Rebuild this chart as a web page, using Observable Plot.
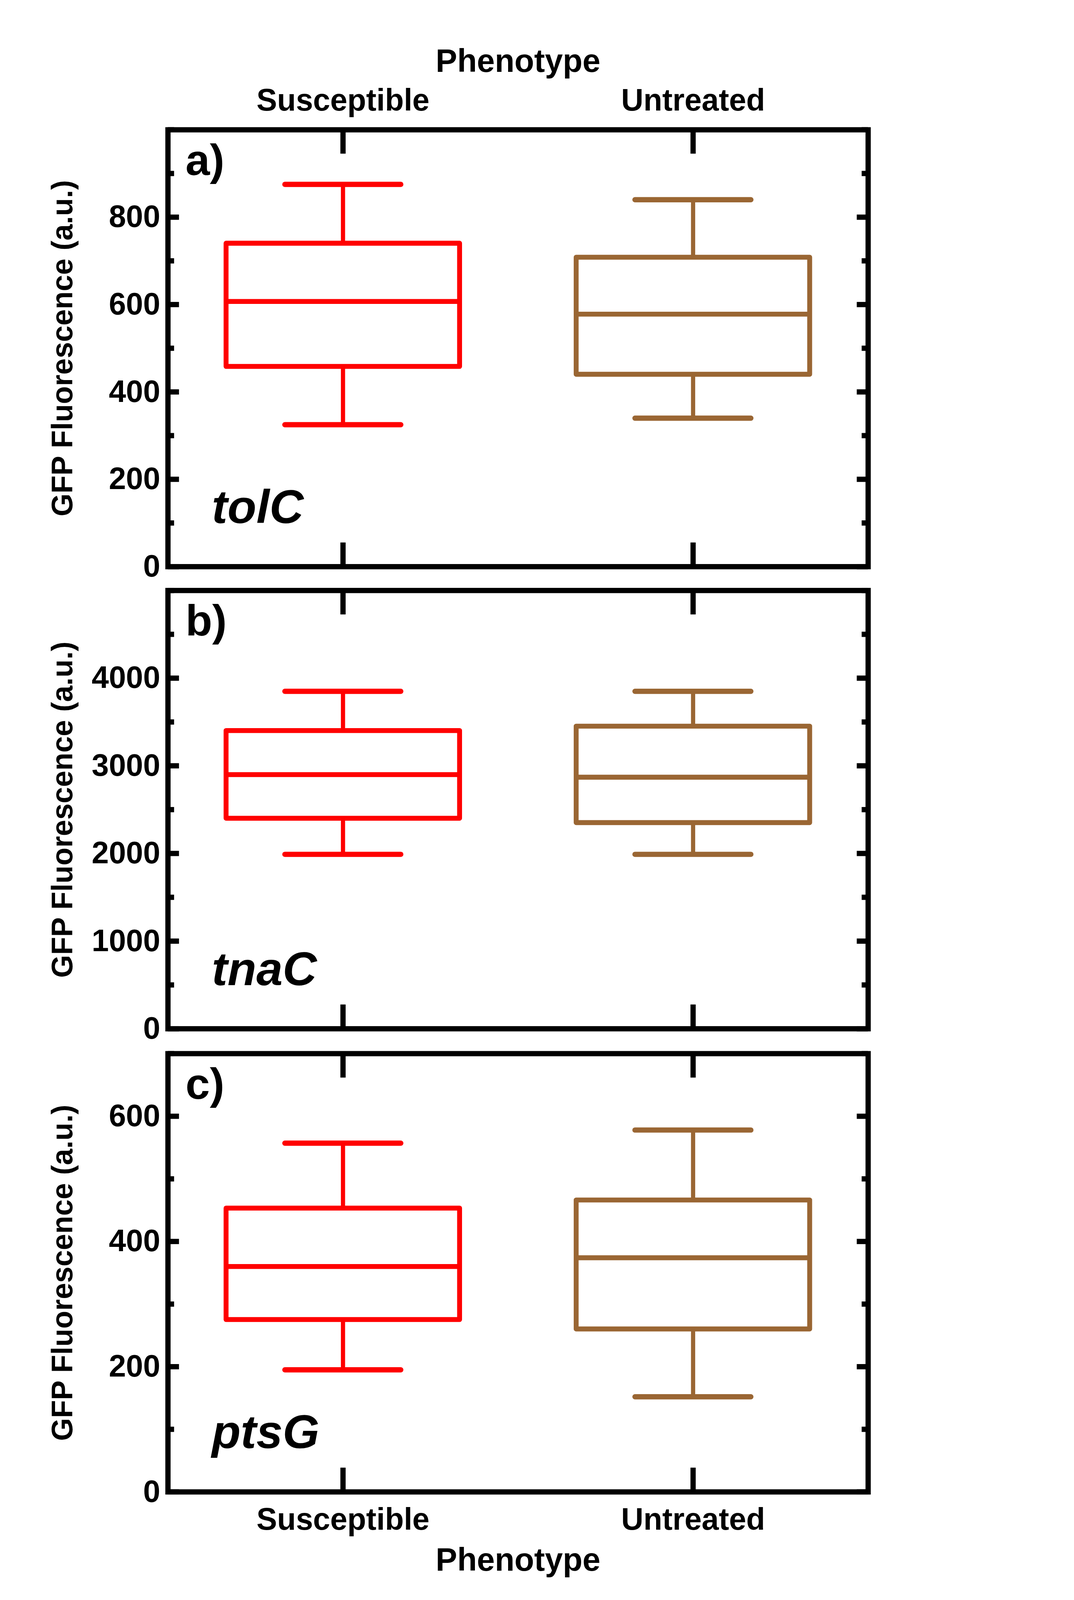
<!DOCTYPE html>
<html><head><meta charset="utf-8">
<script src="https://cdn.jsdelivr.net/npm/d3@7"></script>
<script src="https://cdn.jsdelivr.net/npm/@observablehq/plot@0.6"></script>
<style>html,body{margin:0;padding:0;background:#fff;overflow:hidden}#c{width:2750px;transform-origin:top left}#c>svg{display:block}</style>
</head><body><div id="c"></div>
<script>
const categories = ["Susceptible", "Untreated"];
const colors = ["#ff0000", "#9a6633"];
const genes = ["tolC", "tnaC", "ptsG"];
const letters = ["a)", "b)", "c)"];
// [min, q1, median, q3, max] per category
const tolC = [[325, 458, 607, 740, 875], [340, 440, 578, 708, 840]];
const tnaC = [[1990, 2400, 2900, 3400, 3850], [1990, 2350, 2870, 3450, 3850]];
const ptsG = [[195, 275, 360, 453, 557], [152, 260, 374, 466, 578]];
const yMax = [1000, 5000, 700];
const majorTicks = [[0, 200, 400, 600, 800], [0, 1000, 2000, 3000, 4000], [0, 200, 400, 600]];
const minorStep = [100, 500, 100];
const series = [tolC, tnaC, ptsG];

const W = 2750, ML = 479, MR = 272;
const layouts = [
  {h: 1650, mt: 370, mb: 33},
  {h: 1320, mt: 35, mb: 34},
  {h: 1597, mt: 37, mb: 309}
];
const font = "'Liberation Sans',Arial,sans-serif";
const pos = [1, 3];
const frameW = W - ML - MR;
const tickLen = px => px / frameW * 4;

series.forEach((ser, i) => {
  const L = layouts[i];
  const rows = ser.map((v, k) => ({cat: categories[k], c: colors[k], x: pos[k], min: v[0], q1: v[1], med: v[2], q3: v[3], max: v[4]}));
  const minors = d3.range(0, yMax[i] + 1e-9, minorStep[i]).filter(t => !majorTicks[i].includes(t));
  const majors = majorTicks[i];
  const marks = [
    Plot.ruleY(majors, {x1: 0, x2: tickLen(32), strokeWidth: 15}),
    Plot.ruleY(majors, {x1: 4 - tickLen(32), x2: 4, strokeWidth: 15}),
    Plot.ruleY(minors, {x1: 0, x2: tickLen(18), strokeWidth: 15}),
    Plot.ruleY(minors, {x1: 4 - tickLen(18), x2: 4, strokeWidth: 15}),
    Plot.ruleX(pos, {y1: 0, y2: yMax[i] * 0.055, strokeWidth: 15}),
    Plot.ruleX(pos, {y1: yMax[i] * 0.945, y2: yMax[i], strokeWidth: 15}),
    Plot.ruleX(rows, {x: "x", y1: "q3", y2: "max", stroke: "c", strokeWidth: 12}),
    Plot.ruleX(rows, {x: "x", y1: "min", y2: "q1", stroke: "c", strokeWidth: 12}),
    Plot.ruleY(rows, {y: "max", x1: d => d.x - 0.331, x2: d => d.x + 0.331, stroke: "c", strokeWidth: 15, strokeLinecap: "round"}),
    Plot.ruleY(rows, {y: "min", x1: d => d.x - 0.331, x2: d => d.x + 0.331, stroke: "c", strokeWidth: 15, strokeLinecap: "round"}),
    Plot.rect(rows, {x1: d => d.x - 0.667, x2: d => d.x + 0.667, y1: "q1", y2: "q3", stroke: "c", fill: "none", strokeWidth: 14, strokeLinejoin: "round"}),
    Plot.ruleY(rows, {y: "med", x1: d => d.x - 0.667, x2: d => d.x + 0.667, stroke: "c", strokeWidth: 14}),
    Plot.frame({strokeWidth: 15}),
    Plot.axisY(majors, {tickSize: 0, tickPadding: 22, tickFormat: d => String(d), fontSize: 88, fontWeight: "bold", fontFamily: font, label: null}),
    Plot.text(["GFP Fluorescence (a.u.)"], {frameAnchor: "left", textAnchor: "middle", rotate: -90, dx: -300, fontSize: 84, fontWeight: "bold", fontFamily: font}),
    Plot.text([letters[i]], {frameAnchor: "top-left", dx: 50, dy: 40, textAnchor: "start", lineAnchor: "top", fontSize: 125, fontWeight: "bold", fontFamily: font}),
    Plot.text([genes[i]], {frameAnchor: "bottom-left", dx: 125, dy: -125, textAnchor: "start", lineAnchor: "bottom", fontSize: 135, fontWeight: "bold", fontStyle: "italic", fontFamily: font})
  ];
  if (i === 0) {
    marks.push(Plot.text(rows, {x: "x", text: "cat", frameAnchor: "top", dy: -55, lineAnchor: "bottom", fontSize: 88, fontWeight: "bold", fontFamily: font}));
    marks.push(Plot.text(["Phenotype"], {frameAnchor: "top", dy: -165, lineAnchor: "bottom", fontSize: 92, fontWeight: "bold", fontFamily: font}));
  }
  if (i === 2) {
    marks.push(Plot.text(rows, {x: "x", text: "cat", frameAnchor: "bottom", dy: 45, lineAnchor: "top", fontSize: 88, fontWeight: "bold", fontFamily: font}));
    marks.push(Plot.text(["Phenotype"], {frameAnchor: "bottom", dy: 160, lineAnchor: "top", fontSize: 92, fontWeight: "bold", fontFamily: font}));
  }
  const p = Plot.plot({
    width: W, height: L.h, marginLeft: ML, marginRight: MR, marginTop: L.mt, marginBottom: L.mb,
    x: {domain: [0, 4], axis: null},
    y: {domain: [0, yMax[i]], axis: null},
    color: {type: "identity"},
    style: {background: "#fff", color: "#000", overflow: "visible"},
    marks
  });
  document.getElementById("c").appendChild(p);
});
const vh = window.innerHeight, total = 4567;
if (vh > 0 && vh < total) document.getElementById("c").style.transform = `scale(${vh / total})`;
</script>
</body></html>
